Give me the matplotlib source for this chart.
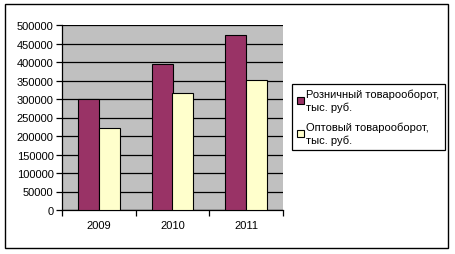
import matplotlib.pyplot as plt
import numpy as np
from matplotlib.patches import Rectangle

plt.rcParams['font.family'] = ['Liberation Sans', 'DejaVu Sans']

years = ['2009', '2010', '2011']
retail = [300000, 394500, 473000]
wholesale = [221000, 315000, 351000]
labels = ['Розничный товарооборот,\nтыс. руб.', 'Оптовый товарооборот,\nтыс. руб.']

W, H = 455, 255
fig = plt.figure(figsize=(W / 100, H / 100), dpi=100)

# outer chart frame
fig.patches.append(Rectangle((5 / W, 1 - 249 / H), 443 / W, 244 / H, transform=fig.transFigure,
                             fill=False, edgecolor='black', linewidth=1))

ax = fig.add_axes([62 / W, 44 / H, 221 / W, 185 / H])
ax.set_facecolor('#c0c0c0')

x = np.arange(len(years))
w = 0.285
ax.bar(x - w / 2, retail, w, color='#993366', edgecolor='black', linewidth=0.8, label=labels[0], zorder=3)
ax.bar(x + w / 2, wholesale, w, color='#ffffcc', edgecolor='black', linewidth=0.8, label=labels[1], zorder=3)

ax.set_xlim(-0.5, 2.5)
ax.set_ylim(0, 500000)
ax.set_yticks(np.arange(0, 500001, 50000))
ax.yaxis.grid(True, color='black', linewidth=0.9, zorder=1)
ax.set_axisbelow(True)

ax.set_xticks(x)
ax.set_xticklabels(years)
ax.set_xticks([-0.5, 0.5, 1.5, 2.5], minor=True)
ax.tick_params(axis='x', which='major', length=0, labelsize=8, pad=7)
ax.tick_params(axis='x', which='minor', length=4, direction='out', width=0.9)
ax.tick_params(axis='y', length=4, width=0.9, labelsize=8, pad=2)

for side in ['top', 'right']:
    ax.spines[side].set_visible(False)
for side in ['left', 'bottom']:
    ax.spines[side].set_linewidth(0.9)

leg = fig.legend(loc='upper left', bbox_to_anchor=(292 / W, 1 - 85 / H), fontsize=8,
                 fancybox=False, edgecolor='black', framealpha=1, handlelength=0.6,
                 handleheight=0.6, handletextpad=0.25, labelspacing=0.8, borderpad=0.45,
                 borderaxespad=0)
leg.get_frame().set_linewidth(0.9)
for t in leg.get_texts():
    t.set_linespacing(1.3)

fig.savefig('out.png', dpi=100)
